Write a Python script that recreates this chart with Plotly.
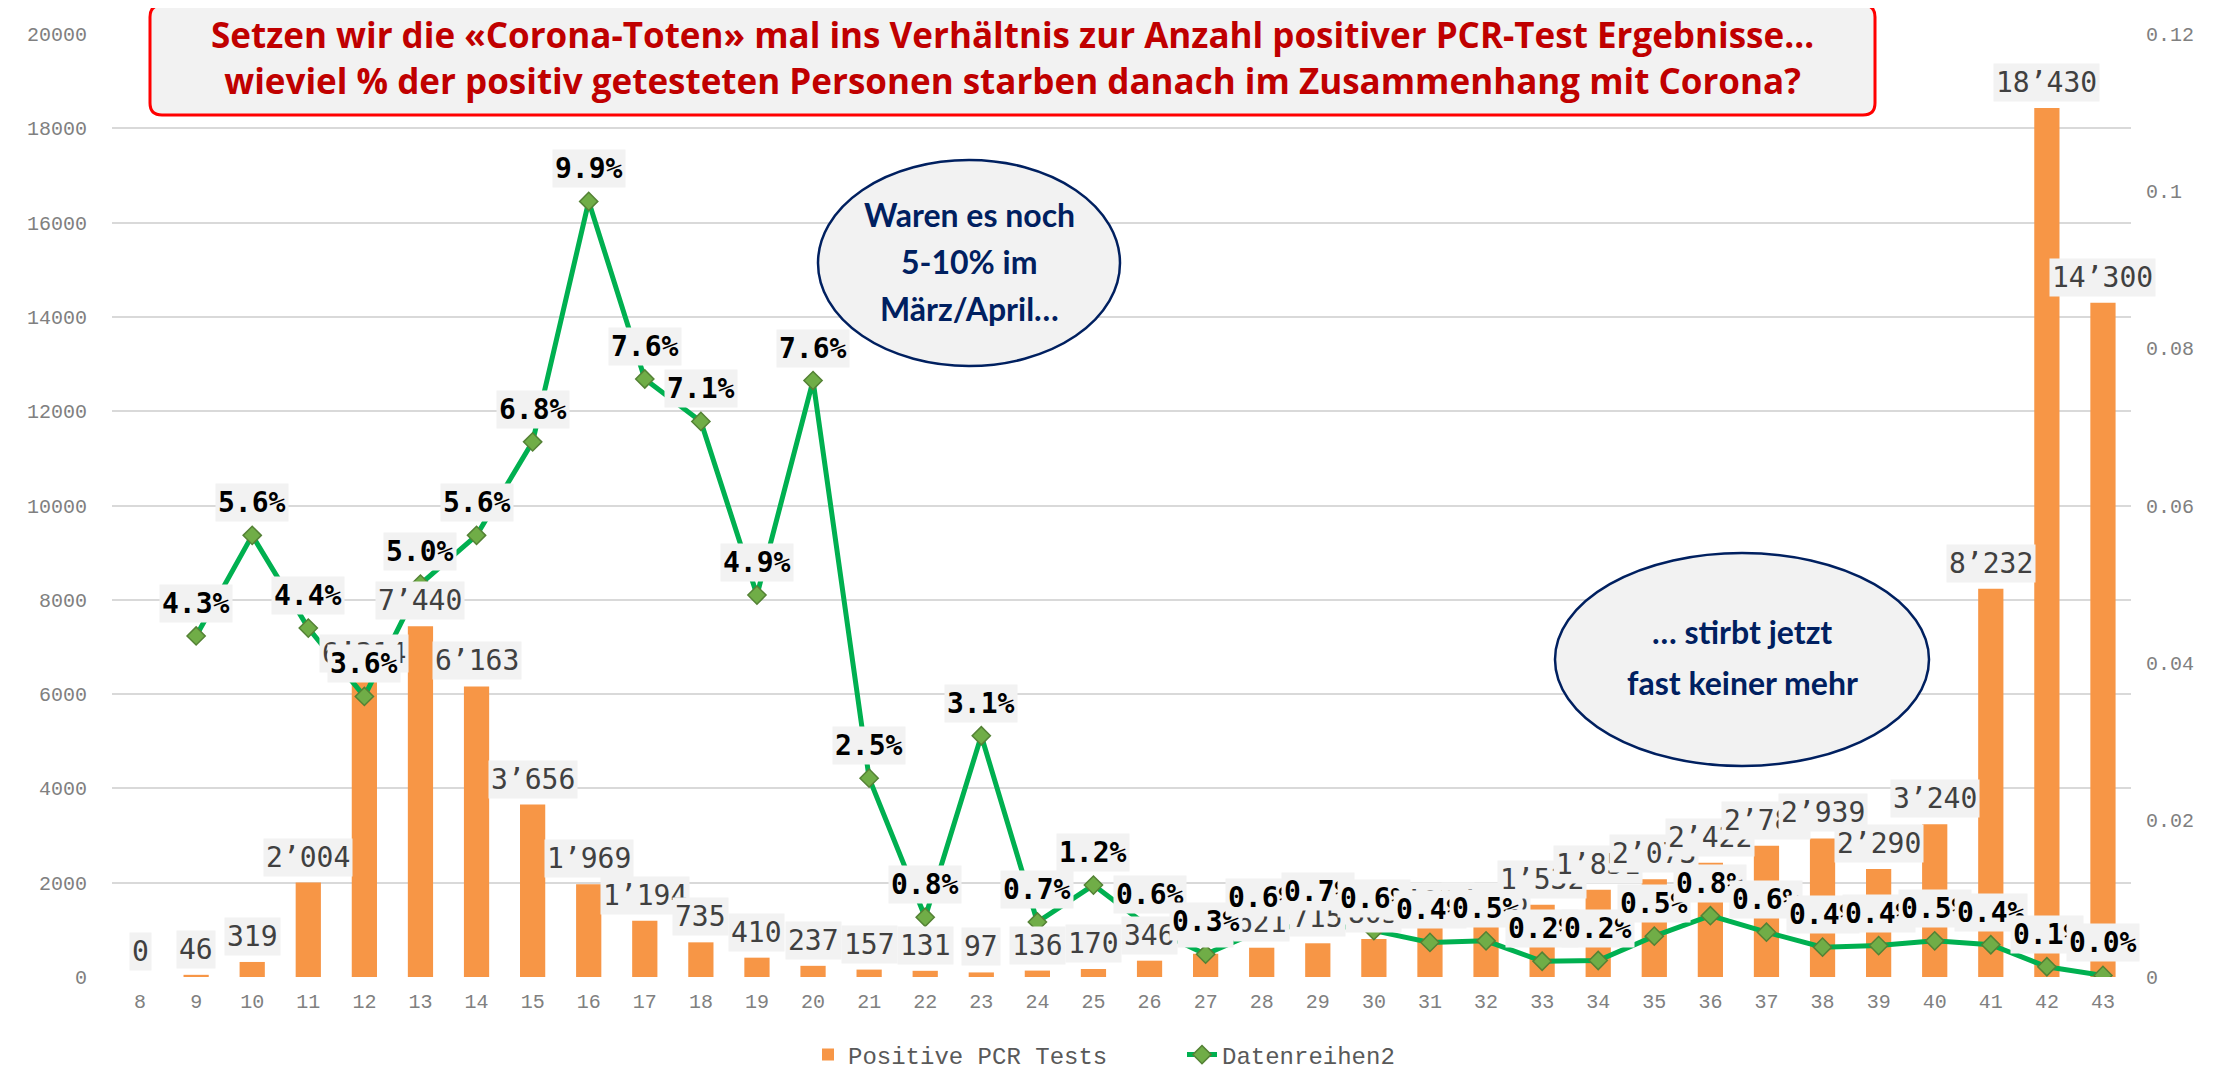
import plotly.graph_objects as go

weeks = list(range(8, 44))
positive_tests = [0, 46, 319, 2004, 6314, 7440, 6163, 3656, 1969, 1194, 735, 410, 237, 157,
                  131, 97, 136, 170, 346, 493, 621, 715, 805, 1052, 1066, 1532, 1851, 2073,
                  2422, 2783, 2939, 2290, 3240, 8232, 18430, 14300]
pct_weeks = list(range(9, 44))
death_ratio = [0.0434, 0.0562, 0.0444, 0.0357, 0.0500, 0.0562, 0.0681, 0.0987, 0.0761, 0.0707,
               0.0486, 0.0759, 0.0253, 0.0076, 0.0307, 0.0070, 0.0117, 0.0063, 0.0029, 0.0060,
               0.0068, 0.0059, 0.0044, 0.0046, 0.0020, 0.0021, 0.0052, 0.0078, 0.0057, 0.0038,
               0.0040, 0.0046, 0.0041, 0.0013, 0.0002]
y_ticks = list(range(0, 20001, 2000))
y2_ticks = [0, 0.02, 0.04, 0.06, 0.08, 0.1, 0.12]

title_lines = ["Setzen wir die «Corona-Toten» mal ins Verhältnis zur Anzahl positiver PCR-Test Ergebnisse…",
               "wieviel % der positiv getesteten Personen starben danach im Zusammenhang mit Corona?"]
bubble1 = ["Waren es noch", "5-10% im", "März/April…"]
bubble2 = ["… stirbt jetzt", "fast keiner mehr"]

W, H = 2229, 1069
L, R, T, B = 104, 106, 26, 100
PW, PH = W - L - R, H - T - B
SHIFT = 7  # measured pixel offsets below are relative to a plot top at 33


def px(x):
    return (x - L) / PW


def py(y):
    return (H - B - (y - SHIFT)) / PH


fig = go.Figure()
fig.add_trace(go.Bar(x=weeks, y=positive_tests, name="Positive PCR Tests",
                     marker=dict(color="#F79646", line=dict(width=0)), width=0.45))
fig.add_trace(go.Scatter(x=pct_weeks, y=death_ratio, name="Datenreihen2", yaxis="y2",
                         mode="lines+markers",
                         line=dict(color="#00B050", width=5),
                         marker=dict(symbol="diamond", size=14, color="#70AD47",
                                     line=dict(color="#548235", width=1.5))))

annotations = []
for w, v in zip(weeks, positive_tests):
    annotations.append(dict(x=w, y=v, xref="x", yref="y", text=f"{v:,}".replace(",", "’"),
                            showarrow=False, xanchor="center", yanchor="bottom", yshift=6,
                            bgcolor="#F2F2F2",
                            font=dict(family="DejaVu Sans Mono", size=28, color="#404040"),
                            borderpad=2))
for w, v in zip(pct_weeks, death_ratio):
    annotations.append(dict(x=w, y=v, xref="x", yref="y2", text=f"<b>{v*100:.1f}%</b>",
                            showarrow=False, xanchor="center", yanchor="bottom", yshift=13,
                            bgcolor="#F2F2F2",
                            font=dict(family="DejaVu Sans Mono", size=28, color="#000000"),
                            borderpad=2))

# title box
x0, x1, y0, y1 = px(142), px(1867), py(114), py(4)
rx, ry = 12 / PW, 12 / PH
path = (f"M {x0+rx},{y0} L {x1-rx},{y0} Q {x1},{y0} {x1},{y0+ry} L {x1},{y1-ry} "
        f"Q {x1},{y1} {x1-rx},{y1} L {x0+rx},{y1} Q {x0},{y1} {x0},{y1-ry} "
        f"L {x0},{y0+ry} Q {x0},{y0} {x0+rx},{y0} Z")
shapes = [
    dict(type="path", xref="paper", yref="paper", path=path, fillcolor="#F2F2F2",
         line=dict(color="#FF0000", width=3), layer="above"),
    dict(type="circle", xref="paper", yref="paper", x0=px(810), x1=px(1112), y0=py(365), y1=py(159),
         fillcolor="#F2F2F2", line=dict(color="#002060", width=2.5), layer="above"),
    dict(type="circle", xref="paper", yref="paper", x0=px(1547), x1=px(1921), y0=py(765), y1=py(552),
         fillcolor="#F2F2F2", line=dict(color="#002060", width=2.5), layer="above"),
    dict(type="line", xref="paper", yref="paper", x0=px(2217), x1=px(2217), y0=-1, y1=2,
         line=dict(color="#D9D9D9", width=2)),
]

annotations.append(dict(xref="paper", yref="paper", x=px(1004), y=py(57), showarrow=False,
                        xanchor="center", yanchor="middle",
                        text="<b>" + "<br>".join(title_lines) + "</b>", align="center",
                        font=dict(family="Open Sans", size=35, color="#C00000")))
for i, line in enumerate(bubble1):
    annotations.append(dict(xref="paper", yref="paper", x=px(961), y=py(213 + 47 * i),
                            showarrow=False, xanchor="center", yanchor="middle",
                            text=f"<b>{line}</b>",
                            font=dict(family="Lato", size=32, color="#002060")))
for i, line in enumerate(bubble2):
    annotations.append(dict(xref="paper", yref="paper", x=px(1734), y=py(630 + 51 * i),
                            showarrow=False, xanchor="center", yanchor="middle",
                            text=f"<b>{line}</b>",
                            font=dict(family="Lato", size=32, color="#002060")))

tickfont = dict(family="Liberation Mono", size=20, color="#808080")
fig.update_layout(
    width=W, height=H, margin=dict(l=L, r=R, t=T, b=B, autoexpand=False),
    paper_bgcolor="white", plot_bgcolor="white",
    xaxis=dict(range=[7.5, 43.5], tickvals=weeks, ticktext=[str(w) for w in weeks],
               tickfont=tickfont, showgrid=False, zeroline=False, showline=False, ticks="",
               ticklabelstandoff=10, automargin=False),
    yaxis=dict(range=[0, 20000], tickvals=y_ticks, ticktext=[str(t) for t in y_ticks],
               tickfont=tickfont, showgrid=True, gridcolor="#D9D9D9", gridwidth=1.5,
               zeroline=False, showline=False, ticks="", ticklabelstandoff=24, automargin=False),
    yaxis2=dict(range=[0, 0.12], tickvals=y2_ticks, ticktext=[f"{t:g}" for t in y2_ticks],
                overlaying="y", side="right", tickfont=tickfont, showgrid=False,
                zeroline=False, showline=False, ticks="", ticklabelstandoff=14, automargin=False),
    legend=dict(orientation="h", xref="container", yref="container",
                x=800 / W, xanchor="left", y=1 - 1047 / H, yanchor="middle",
                entrywidth=329, entrywidthmode="pixels",
                font=dict(family="Liberation Mono", size=24, color="#595959")),
    annotations=annotations, shapes=shapes,
)
fig.write_html("out.html")
